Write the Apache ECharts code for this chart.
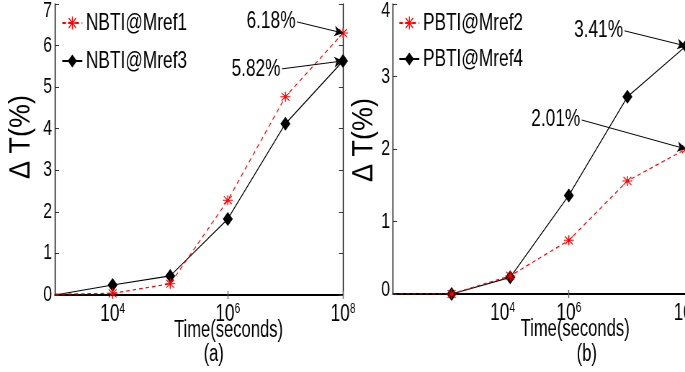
<!DOCTYPE html>
<html>
<head>
<meta charset="utf-8">
<script src="https://cdn.jsdelivr.net/npm/echarts@6/dist/echarts.min.js"></script>
<style>
  html, body { margin: 0; padding: 0; background: #fff; overflow: hidden; }
  /* the source figure uses tall, narrow lettering: draw wider and squeeze horizontally */
  #chart { width: 951px; height: 372px; transform: scaleX(0.7203); transform-origin: 0 0; }
</style>
</head>
<body>
<div id="chart"></div>
<script>
// time axis is log10(seconds): 10^3 ... 10^8
var timeExp = [3, 4, 5, 6, 7, 8];

// panel (a) NBTI, delta T in %
var nbtiMref1 = [0.02, 0.04, 0.27, 2.28, 4.77, 6.30];
var nbtiMref3 = [0.0, 0.24, 0.46, 1.83, 4.12, 5.63];
// panel (b) PBTI
var pbtiMref2 = [0, 0, 0.25, 0.74, 1.56, 2.00];
var pbtiMref4 = [0, 0, 0.23, 1.36, 2.72, 3.42];

// x tick labels (10^n)
var tickExp = [4, 6, 8];
var labelExpA = [4, 6, 8];
var labelExpB = [4.87, 6, 8];   // the 10^4 label sits off its tick in (b)
var tickText = ['4', '6', '8'];

// arrow notes: text, start [exp, y], end [exp, y]
var notesA = [
  { text: '6.18%', from: [7.20, 6.57], to: [8, 6.30] },
  { text: '5.82%', from: [6.94, 5.44], to: [8, 5.63] }
];
var notesB = [
  { text: '3.41%', from: [6.95, 3.63], to: [8, 3.42] },
  { text: '2.01%', from: [6.22, 2.40], to: [8, 2.00] }
];

var S = 0.7203;   // horizontal squeeze, same as the css transform
var FONT = "'Liberation Sans', Arial, sans-serif";
var starPath = 'path://M9 0L11 0L11 20L9 20Z M0 9L20 9L20 11L0 11Z ' +
  'M1.4 2.8L2.8 1.4L18.6 17.2L17.2 18.6Z M17.2 1.4L18.6 2.8L2.8 18.6L1.4 17.2Z';

var myChart = echarts.init(document.getElementById('chart'));

function pts(vals) {
  return timeExp.map(function (e, i) {
    var p = { value: [e, vals[i]] };
    if (e === timeExp[0]) p.symbol = 'none';   // first point lies on the frame, no marker
    return p;
  });
}

function notes(list) {
  return {
    silent: true,
    symbol: ['none', 'arrow'],
    symbolSize: [8, 12],
    lineStyle: { color: '#000', width: 1, type: 'solid' },
    label: {
      show: true, position: 'start', distance: 2,
      color: '#000', fontSize: 24, fontFamily: FONT,
      formatter: function (p) { return p.name; }
    },
    data: list.map(function (n) {
      return [{ name: n.text, coord: n.from }, { coord: n.to }];
    })
  };
}

function bottomX(grid, labelExp, namePad) {
  return {
    gridIndex: grid, type: 'value', position: 'bottom',
    min: 3, max: 8, interval: 1,
    name: 'Time(seconds)', nameLocation: 'middle', nameGap: 24, nameMoveOverlap: false,
    nameTextStyle: { color: '#000', fontSize: 23, fontFamily: FONT, padding: [0, 0, 0, namePad] },
    axisLine: { lineStyle: { color: '#000', width: 2 } },
    axisTick: { inside: true, length: 4, customValues: tickExp, lineStyle: { color: '#666', width: 1 / S } },
    axisLabel: {
      customValues: labelExp, margin: 7,
      formatter: function (v) {
        var i = labelExp.indexOf(v);
        return '{b|10}{s|' + tickText[i] + '}';
      },
      rich: {
        b: { fontSize: 24, fontFamily: FONT, color: '#000' },
        s: { fontSize: 14, fontFamily: FONT, color: '#000', padding: [0, 0, 11, 0] }
      }
    },
    splitLine: { show: false }
  };
}

function topX(grid) {
  return {
    gridIndex: grid, type: 'value', position: 'top', min: 3, max: 8, interval: 1,
    axisLine: { lineStyle: { color: '#000', width: 1 } },
    axisTick: { inside: true, length: 4, customValues: tickExp, lineStyle: { color: '#666', width: 1 / S } },
    axisLabel: { show: false }, splitLine: { show: false }
  };
}

function leftY(grid, max, zeroLift) {
  return {
    gridIndex: grid, type: 'value', min: 0, max: max, interval: 1,
    axisLine: { show: true, lineStyle: { color: '#000', width: 1 / S } },
    axisTick: { show: true, inside: true, length: 4 / S, lineStyle: { color: '#333' } },
    axisLabel: {
      margin: 3 / S, color: '#000', fontSize: 22, fontFamily: FONT,
      formatter: function (v) {
        if (v === max) return '{t|' + v + '}';
        if (v === 0) return '{z|0}';
        return v + '';
      },
      rich: {
        t: { fontSize: 22, fontFamily: FONT, color: '#000', padding: [13, 0, 0, 0] },
        z: { fontSize: 22, fontFamily: FONT, color: '#000', padding: [0, 0, zeroLift, 0] }
      }
    },
    splitLine: { show: false }
  };
}

function rightY(grid, max, visible) {
  return {
    gridIndex: grid, type: 'value', position: 'right', min: 0, max: max, interval: 1,
    axisLine: { show: visible, lineStyle: { color: '#000', width: 1 / S } },
    axisTick: { show: visible, inside: true, length: 4 / S, lineStyle: { color: '#333' } },
    axisLabel: { show: false }, splitLine: { show: false }
  };
}

function redSeries(name, vals, ax, marks) {
  return {
    name: name, type: 'line', xAxisIndex: ax, yAxisIndex: ax,
    data: pts(vals), symbol: starPath, symbolSize: [10 / S, 10],
    itemStyle: { color: '#ff0000' },
    lineStyle: { color: '#ff0000', width: 1.2, type: [5, 4] },
    markLine: marks
  };
}

function blackSeries(name, vals, ax, marks) {
  return {
    name: name, type: 'line', xAxisIndex: ax, yAxisIndex: ax,
    data: pts(vals), symbol: 'diamond', symbolSize: [10 / S, 14],
    itemStyle: { color: '#000' },
    lineStyle: { color: '#000', width: 1.2, type: 'solid' },
    markLine: marks
  };
}

function legend(names, left, gap) {
  return {
    data: names, orient: 'vertical', left: left / S, top: 5,
    itemWidth: 20 / S, itemHeight: 16, itemGap: gap,
    textStyle: { color: '#000', fontSize: 24, fontFamily: FONT, lineHeight: 26 }
  };
}

function yTitle(x, y) {
  return {
    type: 'text', x: x / S, y: y, rotation: Math.PI / 2, scaleY: 1.1 / S,
    style: { text: 'Δ T(%)', fill: '#000', fontSize: 27, fontFamily: FONT, align: 'center', verticalAlign: 'middle' }
  };
}

function panelTag(text, left) {
  return { text: text, left: left / S, top: 338, textStyle: { color: '#000', fontSize: 23, fontWeight: 'normal', fontFamily: FONT } };
}

var option = {
  animation: false,
  backgroundColor: '#fff',
  title: [panelTag('(a)', 200), panelTag('(b)', 573)],
  legend: [
    legend(['NBTI@Mref1', 'NBTI@Mref3'], 58, 12),
    legend(['PBTI@Mref2', 'PBTI@Mref4'], 395, 10)
  ],
  graphic: [yTitle(21, 137), yTitle(364, 140)],
  grid: [
    { left: 55 / S, top: 4, width: 288 / S, height: 291, outerBoundsMode: 'none', containLabel: false },
    { left: 393 / S, top: 4, width: 293 / S, height: 290, outerBoundsMode: 'none', containLabel: false }
  ],
  xAxis: [bottomX(0, labelExpA, 82), topX(0), bottomX(1, labelExpB, 99), topX(1)],
  yAxis: [leftY(0, 7, 0), rightY(0, 7, true), leftY(1, 4, 8), rightY(1, 4, false)],
  series: [
    blackSeries('NBTI@Mref3', nbtiMref3, 0, notes([notesA[1]])),
    redSeries('NBTI@Mref1', nbtiMref1, 0, notes([notesA[0]])),
    blackSeries('PBTI@Mref4', pbtiMref4, 2, notes([notesB[0]])),
    redSeries('PBTI@Mref2', pbtiMref2, 2, notes([notesB[1]]))
  ]
};

myChart.setOption(option);
</script>
</body>
</html>
